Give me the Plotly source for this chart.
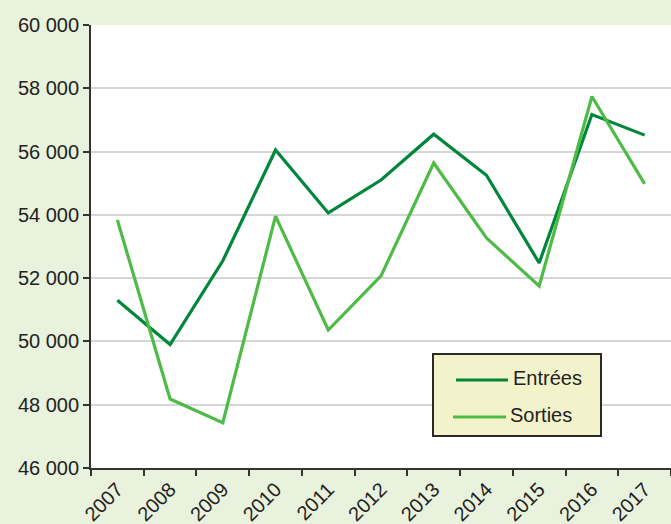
import plotly.graph_objects as go

# Années
years = ["2007", "2008", "2009", "2010", "2011", "2012",
         "2013", "2014", "2015", "2016", "2017"]

# Nombre d'entrées et de sorties par année
entrees = [51300, 49900, 52550, 56050, 54060, 55100,
           56550, 55250, 52480, 57170, 56520]
sorties = [53840, 48180, 47430, 53960, 50360, 52070,
           55640, 53270, 51750, 57740, 54980]

y_ticks = [46000, 48000, 50000, 52000, 54000, 56000, 58000, 60000]
y_labels = [f"{v:,}".replace(",", " ") for v in y_ticks]

DARK_GREEN = "#00873c"
LIGHT_GREEN = "#4fbb47"
FONT = "Liberation Sans, Arial, sans-serif"

W, H = 671, 524
M_L, M_R, M_T, M_B = 91, 0, 25, 56
PW, PH = W - M_L - M_R, H - M_T - M_B


def px_x(p):
    """Horizontal pixel position -> paper fraction."""
    return (p - M_L) / PW


def px_y(p):
    """Vertical pixel position (from top) -> paper fraction."""
    return (H - M_B - p) / PH


fig = go.Figure()
fig.add_trace(go.Scatter(x=years, y=entrees, name="Entrées", mode="lines",
                         line=dict(color=DARK_GREEN, width=3.2)))
fig.add_trace(go.Scatter(x=years, y=sorties, name="Sorties", mode="lines",
                         line=dict(color=LIGHT_GREEN, width=3.2)))

# Legend box drawn as a framed panel with line samples and labels
shapes = [
    dict(type="rect", xref="paper", yref="paper",
         x0=px_x(433), x1=px_x(601), y0=px_y(436), y1=px_y(354),
         fillcolor="#f2f2cb", line=dict(color="#2a2a2a", width=2), layer="above"),
    dict(type="line", xref="paper", yref="paper",
         x0=px_x(456), x1=px_x(508), y0=px_y(380), y1=px_y(380),
         line=dict(color=DARK_GREEN, width=3.2), layer="above"),
    dict(type="line", xref="paper", yref="paper",
         x0=px_x(453), x1=px_x(506), y0=px_y(417), y1=px_y(417),
         line=dict(color=LIGHT_GREEN, width=3.2), layer="above"),
]
annotations = [
    dict(text="Entrées", xref="paper", yref="paper", x=px_x(511), y=px_y(378),
         xanchor="left", yanchor="middle", showarrow=False,
         font=dict(family=FONT, size=20, color="#222222")),
    dict(text="Sorties", xref="paper", yref="paper", x=px_x(508), y=px_y(415),
         xanchor="left", yanchor="middle", showarrow=False,
         font=dict(family=FONT, size=20, color="#222222")),
]

fig.update_layout(
    width=W, height=H,
    margin=dict(l=M_L, r=M_R, t=M_T, b=M_B),
    paper_bgcolor="#e9f2dd",
    plot_bgcolor="#ffffff",
    font=dict(family=FONT, size=20, color="#222222"),
    showlegend=False,
    shapes=shapes,
    annotations=annotations,
    xaxis=dict(
        type="category",
        tickson="boundaries",
        ticks="outside", ticklen=6, tickcolor="#333333", tickwidth=1.5,
        showgrid=False,
        showline=True, linecolor="#333333", linewidth=1.8,
        tickangle=-45,
        tickfont=dict(size=20),
        range=[-0.5, 10.5],
    ),
    yaxis=dict(
        range=[46000, 60000],
        tickvals=y_ticks, ticktext=y_labels,
        ticks="outside", ticklen=6, tickcolor="#333333", tickwidth=1.5,
        showgrid=True, gridcolor="#d6d6d6", gridwidth=1.5,
        showline=True, linecolor="#333333", linewidth=1.8,
        zeroline=False,
        tickfont=dict(size=20),
    ),
)

fig.write_html("out.html")
